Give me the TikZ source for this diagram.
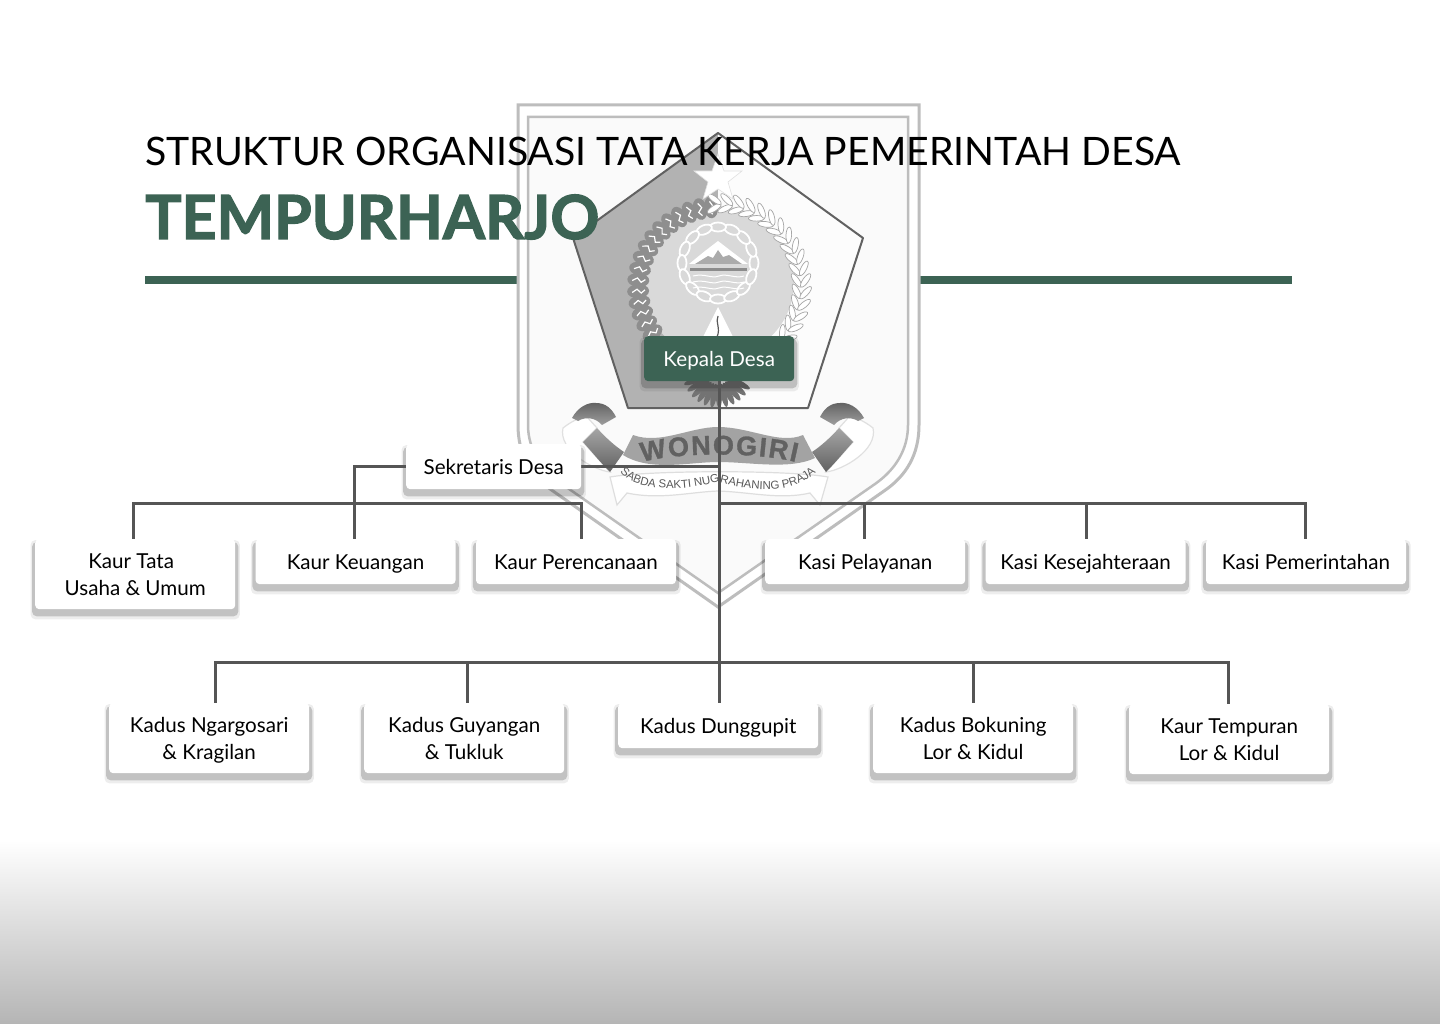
\documentclass[tikz,border=0pt]{standalone}
\usepackage{fontspec}
\setmainfont{Lato}
\newfontfamily\emblemfont{Liberation Sans}
\newfontfamily\wordfont[FakeBold=1.2]{Liberation Sans Bold}
\newfontfamily\heavyfont[FakeBold=2]{Lato Bold}
\usetikzlibrary{positioning,decorations.text}

\definecolor{deepgreen}{HTML}{3C6354}
\definecolor{linegray}{HTML}{555555}
\definecolor{shieldline}{HTML}{BDBDBD}
\definecolor{wreathdark}{HTML}{8E8E8E}

\pgfdeclarelayer{emblem}
\pgfdeclarelayer{lines}
\pgfsetlayers{emblem,lines,main}

\newlength\cardW
\setlength\cardW{200pt}
\newcommand\cardstrut{\rule[-4.3pt]{0pt}{24pt}}

\tikzset{
	cardbase/.style={fill=white, rounded corners=4pt, anchor=north west, minimum width=\cardW, inner sep=0pt, align=center, font=\fontsize{20.6}{27}\selectfont},
	card/.style={cardbase, minimum height=45pt, execute at begin node=\cardstrut, execute at end node=\cardstrut},
	tallcard/.style={cardbase, minimum height=70pt, text depth=0pt},
	conn/.style={draw=linegray, line width=3pt},
}

\begin{document}
\begin{tikzpicture}[x=1pt,y=-1pt]

	\useasboundingbox (0,0) rectangle (1440,1024);

	\begin{pgfonlayer}{emblem}
	\fill[white] (0,0) rectangle (1440,1024);
	\shade[top color=white, bottom color=black!29] (0,840) rectangle (1440,1024);
	\fill[deepgreen] (145,276) rectangle (1292,284);

	\draw[shieldline, line width=3pt, fill=white] (518,105) -- (919,105) -- (919,425) .. controls (919,455) and (906,476) .. (884,491) -- (718,607) -- (553,491) .. controls (531,476) and (518,455) .. (518,425) -- cycle;
	\draw[shieldline, line width=2.5pt, fill=black!2] (528,117) -- (908,117) -- (908,425) .. controls (908,450) and (895,470) .. (875,484) -- (718,593) -- (562,484) .. controls (542,470) and (528,450) .. (528,425) -- cycle;

	\fill[black!30] (718,133) -- (573,238) -- (628,408) -- (718,408) -- cycle;
	\fill[black!1] (718,133) -- (863,238) -- (808,408) -- (718,408) -- cycle;
	\fill[black!15] (718,282) circle (76);
	\draw[black!62, line width=2pt, line join=round] (718,133) -- (863,238) -- (808,408) -- (628,408) -- (573,238) -- cycle;

	\foreach \t in {95,103,...,215} {
		\begin{scope}[shift={({718+80*cos(\t)},{287-80*sin(\t)})}, rotate=\t]
			\fill[wreathdark] (0,0) ellipse [x radius=11pt, y radius=7pt];
			\draw[white, line width=1.2pt] (-7,1) -- (-3,-2) -- (1,2) -- (6,-1);
		\end{scope}
	}
	\foreach \t in {88,80,...,-40} {
		\begin{scope}[shift={({718+83*cos(\t)},{287-83*sin(\t)})}, rotate={\t+90}]
			\draw[black!35, fill=white, line width=.7pt, rotate=35] (8,0) ellipse [x radius=8pt, y radius=2.8pt];
			\draw[black!35, fill=white, line width=.7pt, rotate=-35] (8,0) ellipse [x radius=8pt, y radius=2.8pt];
		\end{scope}
	}
	\fill[white, draw=black!12, line width=.6pt] (718,154) -- (724,171) -- (742,171) -- (728,182) -- (733,199) -- (718,189) -- (703,199) -- (708,182) -- (694,171) -- (712,171) -- cycle;

	\foreach \t in {0,22.5,...,337.5} {
		\draw[white, line width=1.8pt, fill=black!15, rotate around={90+\t:({718+36*cos(\t)},{263-36*sin(\t)})}] ({718+36*cos(\t)},{263-36*sin(\t)}) ellipse [x radius=8pt, y radius=4.5pt];
	}
	\fill[white] (689,264) -- (705,251) -- (718,241) -- (731,251) -- (748,264) -- cycle;
	\fill[black!33] (695,264) -- (708,256) -- (713,258) -- (718,250) -- (723,257) -- (729,255) -- (742,264) -- cycle;
	\fill[black!45] (690,268) rectangle (747,271);
	\foreach \y in {276,282,288} {
		\draw[white, line width=1pt] (693,\y) .. controls (705,{\y-3}) and (711,{\y+3}) .. (719,\y) .. controls (727,{\y-3}) and (735,{\y+3}) .. (744,\y);
	}
	\fill[white] (718,307) -- (733,337) -- (703,337) -- cycle;
	\draw[black!65, line width=1.2pt] (718,316) .. controls (715,322) and (721,328) .. (717,337);

	\foreach \t in {-160,-148,...,-20} {
		\fill[black!55, shift={({718+24*cos(\t)},{372-24*sin(\t)})}, rotate=\t] (0,0) ellipse [x radius=12pt, y radius=3pt];
	}

	\draw[black!13, line width=1.2pt, fill=white] (610,477) -- (617,505) -- (627,493) .. controls (660,500) and (690,492) .. (718,491) .. controls (750,492) and (780,500) .. (810,493) -- (820,505) -- (828,477) .. controls (790,470) and (650,470) .. (610,477) -- cycle;

	\foreach \s in {1,-1} {
		\begin{scope}[shift={(718,0)}, xscale=\s]
			\draw[black!12, line width=1.2pt, fill=white] (-155,428) .. controls (-145,420) and (-135,416) .. (-130,418) -- (-121,428) -- (-135,442) -- (-108,472) .. controls (-125,470) and (-160,450) .. (-155,428) -- cycle;
			\shade[top color=black!62, bottom color=black!38] (-146,418) .. controls (-140,407) and (-130,402) .. (-122,403) .. controls (-112,403) and (-106,409) .. (-102,417) -- (-116,425) .. controls (-122,418) and (-132,416) .. (-140,421) -- cycle;
			\shade[top color=black!35, bottom color=black!62] (-135,442) -- (-121,428) .. controls (-112,438) and (-103,446) .. (-94,452) -- (-108,472) .. controls (-118,462) and (-126,452) .. (-135,442) -- cycle;
		\end{scope}
	}
	\fill[black!36] (633,435) .. controls (660,445) and (690,427) .. (718,427) .. controls (750,427) and (780,445) .. (803,435) -- (815,458) .. controls (790,470) and (750,462) .. (718,462) .. controls (690,462) and (650,472) .. (623,455) -- cycle;
	\path[decorate, decoration={text along path, text align={fit to path}, text color=black!62, text={|\wordfont\fontsize{27}{27}\selectfont|WONOGIRI}}] (642,462) .. controls (680,452) and (755,452) .. (796,462);
	\path[decorate, decoration={text along path, text align=center, text color=black!65, text={|\emblemfont\fontsize{11.5}{12}\selectfont|SABDA SAKTI NUGRAHANING PRAJA}}] (618,470) .. controls (635,492) and (680,492) .. (718,482) .. controls (755,492) and (795,495) .. (818,470);
	\end{pgfonlayer}

	\node[anchor=base west, inner sep=0pt, font=\fontsize{39.2}{41}\selectfont] at (145,166) (TitleA) {STRUKTUR ORGANISASI TATA KERJA PEMERINTAH DESA};
	\node[anchor=base west, inner sep=0pt, text=deepgreen, font=\heavyfont\fontsize{60.8}{64}\selectfont] at (145,239) (TitleB) {TEMPURHARJO};

	\node[card, fill=deepgreen, text=white, minimum width=150pt] at (644,336) (KD) {Kepala Desa};
	\node[card, minimum width=175pt] at (406,444) (SD) {Sekretaris Desa};

	\node[tallcard] at (35,539) (KT) {Kaur Tata\hspace*{8pt}\\Usaha \& Umum};
	\node[card] at ([xshift=20pt]KT.north east) (KK) {Kaur Keuangan};
	\node[card] at ([xshift=20pt]KK.north east) (KR) {Kaur Perencanaan};
	\node[card] at (765,539) (SP) {Kasi Pelayanan};
	\node[card] at ([xshift=20pt]SP.north east) (SK) {Kasi Kesejahteraan};
	\node[card] at ([xshift=20pt]SK.north east) (SM) {Kasi Pemerintahan};

	\node[tallcard] at (109,703) (DN) {Kadus Ngargosari\\\& Kragilan};
	\node[tallcard] at (364,703) (DG) {Kadus Guyangan\\\& Tukluk};
	\node[card] at (618,703) (DD) {Kadus Dunggupit};
	\node[tallcard] at (873,703) (DB) {Kadus Bokuning\\Lor \& Kidul};
	\node[tallcard] at (1129,704) (DT) {Kaur Tempuran\\Lor \& Kidul};

	\begin{pgfonlayer}{lines}
	\foreach \n in {KD,SD,KT,KK,KR,SP,SK,SM,DN,DG,DD,DB,DT} {
		\fill[black, opacity=.07, rounded corners=5pt] ([xshift=-4.5pt,yshift=-1pt]\n.north west) rectangle ([xshift=4.5pt,yshift=-10pt]\n.south east);
		\fill[black, opacity=.18, rounded corners=5pt] ([xshift=-3pt,yshift=-3pt]\n.north west) rectangle ([xshift=3pt,yshift=-7pt]\n.south east);
	}
	\coordinate (BusL) at (581,503);
	\coordinate (BusR) at (719,503);
	\coordinate (BusD) at (719,662);
	\draw[conn] (KD.south) -- (KD.south |- DD.north);
	\draw[conn] (SD.east) -- (SD.east -| KD.south);
	\draw[conn] (SD.west) -| ([xshift=-1pt]KK.north);
	\draw[conn] ([xshift=-2pt]KT.north) |- (BusL) -- (BusL |- KR.north);
	\draw[conn] (BusR) -| ([xshift=-1pt]SM.north);
	\draw[conn] ([xshift=-1pt]SP.north) -- ([xshift=-1pt]SP.north |- BusR);
	\draw[conn] ([xshift=1pt]SK.north) -- ([xshift=1pt]SK.north |- BusR);
	\draw[conn] ([xshift=6pt]DN.north) |- (BusD) -| ([xshift=-1pt]DT.north);
	\draw[conn] ([xshift=3pt]DG.north) -- ([xshift=3pt]DG.north |- BusD);
	\draw[conn] (DB.north) -- (DB.north |- BusD);
	\end{pgfonlayer}

\end{tikzpicture}
\end{document}
